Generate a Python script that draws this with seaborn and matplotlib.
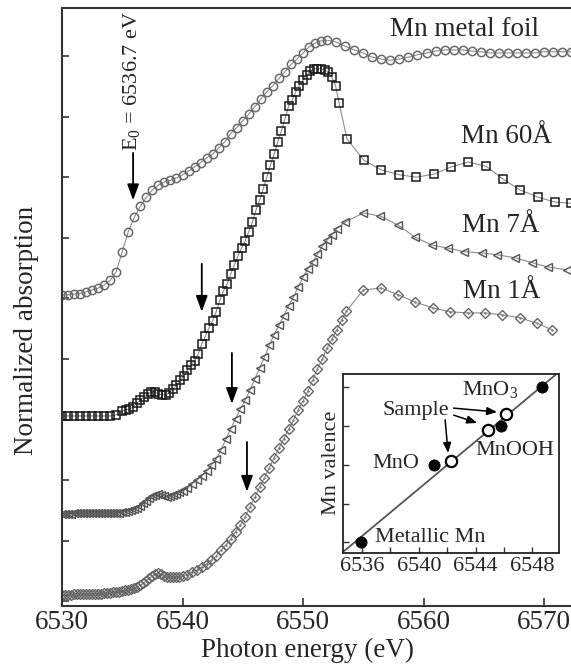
import numpy as np
import matplotlib
matplotlib.use("Agg")
import matplotlib.pyplot as plt
import seaborn as sns

# ---------------- data ----------------
foil_E = [6530.0, 6530.5, 6531.0, 6531.5, 6532.0, 6532.5, 6533.0, 6533.5, 6534.0, 6534.5,
          6535.0, 6535.5, 6536.0, 6536.5, 6537.0, 6537.5, 6538.0, 6538.5, 6539.0, 6539.5,
          6540.0, 6540.5, 6541.0, 6541.5, 6542.0, 6542.5, 6543.0, 6543.5, 6544.0, 6544.5,
          6545.0, 6545.5, 6546.0, 6546.5, 6547.0, 6547.5, 6548.0, 6548.5, 6549.0, 6549.5,
          6550.0, 6550.5, 6551.0, 6551.5, 6552.0, 6552.75, 6553.5, 6554.25, 6555.0, 6555.75,
          6556.5, 6557.25, 6558.0, 6558.75, 6559.5, 6560.25, 6561.0, 6561.75, 6562.5, 6563.25,
          6564.0, 6564.75, 6565.5, 6566.25, 6567.0, 6567.75, 6568.5, 6569.25, 6570.0, 6570.75,
          6571.5, 6572.25]
foil_mu = [5.06, 5.06, 5.07, 5.08, 5.11, 5.14, 5.17, 5.22, 5.30, 5.44,
           5.77, 6.10, 6.34, 6.52, 6.67, 6.79, 6.87, 6.92, 6.95, 6.99,
           7.04, 7.10, 7.17, 7.24, 7.32, 7.38, 7.48, 7.58, 7.72, 7.82,
           7.93, 8.04, 8.16, 8.29, 8.41, 8.51, 8.63, 8.74, 8.86, 8.95,
           9.05, 9.15, 9.21, 9.25, 9.26, 9.23, 9.16, 9.10, 9.05, 8.98,
           8.95, 8.93, 8.95, 8.98, 9.02, 9.05, 9.08, 9.10, 9.10, 9.10,
           9.08, 9.07, 9.05, 9.05, 9.05, 9.05, 9.05, 9.05, 9.07, 9.07,
           9.07, 9.07]

mn60_E = [6530.0, 6530.5, 6531.0, 6531.5, 6532.0, 6532.5, 6533.0, 6533.5, 6534.0, 6534.5,
          6535.0, 6535.3, 6535.6, 6535.9, 6536.2, 6536.5, 6536.8, 6537.1, 6537.4, 6537.7,
          6538.0, 6538.3, 6538.6, 6538.9, 6539.2, 6539.5, 6539.8, 6540.1, 6540.4, 6540.7,
          6541.0, 6541.3, 6541.6, 6541.9, 6542.2, 6542.5, 6542.8, 6543.1, 6543.4, 6543.7,
          6544.0, 6544.3, 6544.6, 6544.9, 6545.2, 6545.5, 6545.8, 6546.1, 6546.4, 6546.7,
          6547.0, 6547.3, 6547.6, 6547.9, 6548.2, 6548.5, 6548.8, 6549.1, 6549.4, 6549.7,
          6550.0, 6550.3, 6550.6, 6550.9, 6551.2, 6551.5, 6551.8, 6552.1, 6552.4, 6552.7,
          6553.0, 6553.65, 6555.05, 6556.5, 6558.0, 6559.4, 6560.85, 6562.3, 6563.7, 6565.2,
          6566.6, 6568.0, 6569.5, 6570.9, 6572.2]
mn60_mu = [3.06, 3.06, 3.06, 3.06, 3.06, 3.06, 3.06, 3.06, 3.06, 3.08,
           3.14, 3.16, 3.17, 3.21, 3.27, 3.32, 3.37, 3.42, 3.46, 3.46,
           3.42, 3.41, 3.41, 3.44, 3.50, 3.57, 3.65, 3.72, 3.82, 3.90,
           3.97, 4.08, 4.25, 4.38, 4.51, 4.63, 4.78, 4.97, 5.12, 5.24,
           5.40, 5.55, 5.70, 5.83, 5.95, 6.10, 6.26, 6.46, 6.62, 6.81,
           7.00, 7.20, 7.38, 7.58, 7.76, 7.96, 8.17, 8.27, 8.41, 8.51,
           8.60, 8.69, 8.75, 8.79, 8.79, 8.79, 8.77, 8.74, 8.65, 8.51,
           8.22, 7.63, 7.28, 7.12, 7.04, 7.00, 7.05, 7.17, 7.25, 7.18,
           6.97, 6.79, 6.67, 6.59, 6.57]

mn7_E = [6530.0, 6530.25, 6530.5, 6530.75, 6531.0, 6531.25, 6531.5, 6531.75, 6532.0, 6532.25,
         6532.5, 6532.75, 6533.0, 6533.25, 6533.5, 6533.75, 6534.0, 6534.25, 6534.5, 6534.75,
         6535.0, 6535.25, 6535.5, 6535.75, 6536.0, 6536.25, 6536.5, 6536.75, 6537.0, 6537.25,
         6537.5, 6537.75, 6538.0, 6538.25, 6538.5, 6538.75, 6539.0, 6539.25, 6539.5, 6539.75,
         6540.0, 6540.4, 6540.8, 6541.2, 6541.6, 6542.0, 6542.4, 6542.8, 6543.2, 6543.6,
         6544.0, 6544.4, 6544.8, 6545.2, 6545.6, 6546.0, 6546.4, 6546.8, 6547.2, 6547.6,
         6548.0, 6548.4, 6548.8, 6549.2, 6549.6, 6550.0, 6550.4, 6550.8, 6551.2, 6551.6,
         6552.0, 6552.4, 6552.8, 6553.5, 6555.0, 6556.4, 6557.9, 6559.3, 6560.7, 6562.0,
         6563.4, 6564.85, 6566.1, 6567.6, 6569.0, 6570.3, 6571.9]
mn7_mu = [1.44, 1.44, 1.44, 1.45, 1.46, 1.46, 1.46, 1.46, 1.46, 1.46,
          1.46, 1.46, 1.46, 1.46, 1.46, 1.46, 1.46, 1.46, 1.46, 1.46,
          1.48, 1.48, 1.49, 1.50, 1.52, 1.54, 1.57, 1.62, 1.66, 1.70,
          1.74, 1.76, 1.77, 1.76, 1.74, 1.73, 1.74, 1.76, 1.77, 1.80,
          1.82, 1.87, 1.94, 2.00, 2.07, 2.15, 2.25, 2.35, 2.50, 2.68,
          2.85, 3.01, 3.18, 3.32, 3.49, 3.67, 3.85, 4.03, 4.23, 4.40,
          4.56, 4.71, 4.88, 5.02, 5.19, 5.35, 5.49, 5.60, 5.73, 5.86,
          5.96, 6.05, 6.15, 6.26, 6.41, 6.36, 6.21, 6.01, 5.88, 5.83,
          5.77, 5.75, 5.72, 5.67, 5.59, 5.52, 5.47]

mn1_E = [6530.0, 6530.25, 6530.5, 6530.75, 6531.0, 6531.25, 6531.5, 6531.75, 6532.0, 6532.25,
         6532.5, 6532.75, 6533.0, 6533.25, 6533.5, 6533.75, 6534.0, 6534.25, 6534.5, 6534.75,
         6535.0, 6535.25, 6535.5, 6535.75, 6536.0, 6536.25, 6536.5, 6536.75, 6537.0, 6537.25,
         6537.5, 6537.75, 6538.0, 6538.25, 6538.5, 6538.75, 6539.0, 6539.25, 6539.5, 6539.75,
         6540.0, 6540.4, 6540.8, 6541.2, 6541.6, 6542.0, 6542.4, 6542.8, 6543.2, 6543.6,
         6544.0, 6544.4, 6544.8, 6545.2, 6545.6, 6546.0, 6546.4, 6546.8, 6547.2, 6547.6,
         6548.0, 6548.4, 6548.8, 6549.2, 6549.6, 6550.0, 6550.4, 6550.8, 6551.2, 6551.6,
         6552.0, 6552.4, 6552.8, 6553.2, 6553.6, 6555.0, 6556.5, 6557.9, 6559.3, 6560.8,
         6562.2, 6563.7, 6565.1, 6566.5, 6568.0, 6569.4, 6570.7]
mn1_mu = [0.11, 0.11, 0.11, 0.11, 0.12, 0.12, 0.12, 0.12, 0.12, 0.12,
          0.12, 0.12, 0.12, 0.13, 0.14, 0.14, 0.14, 0.15, 0.16, 0.16,
          0.17, 0.18, 0.19, 0.20, 0.22, 0.24, 0.27, 0.30, 0.34, 0.38,
          0.42, 0.45, 0.47, 0.45, 0.42, 0.41, 0.40, 0.40, 0.40, 0.41,
          0.42, 0.44, 0.49, 0.52, 0.57, 0.62, 0.68, 0.75, 0.85, 0.93,
          1.03, 1.15, 1.26, 1.39, 1.56, 1.72, 1.89, 2.04, 2.20, 2.37,
          2.53, 2.68, 2.84, 2.99, 3.16, 3.31, 3.47, 3.65, 3.84, 4.00,
          4.18, 4.33, 4.48, 4.64, 4.79, 5.14, 5.17, 5.06, 4.94, 4.84,
          4.78, 4.76, 4.76, 4.73, 4.68, 4.59, 4.48]

curve_labels = ["Mn metal foil", "Mn 60\u00c5", "Mn 7\u00c5", "Mn 1\u00c5"]
e0_text = "E$_0$ = 6536.7 eV"
# edge-position arrows: energy, arrow start (top) and tip
arrow_E = [6535.9, 6541.6, 6544.1, 6545.35]
arrow_top = [7.40, 5.57, 4.10, 2.63]
arrow_tip = [6.62, 4.78, 3.26, 1.81]

x_ticks = [6530, 6540, 6550, 6560, 6570]

# inset: edge energy vs Mn valence
ref_names = ["Metallic Mn", "MnO", "MnOOH", "MnO$_3$"]
ref_E = [6535.93, 6541.07, 6545.79, 6548.65]
ref_val = [0, 2, 3, 4]
sample_E = [6542.27, 6544.89, 6546.14]
sample_val = [2.09, 2.89, 3.29]
inset_ticks = [6536, 6540, 6544, 6548]

# ---------------- style ----------------
sns.set_theme(style="ticks")
plt.rcParams["font.family"] = ["Liberation Serif", "DejaVu Serif"]
plt.rcParams["mathtext.fontset"] = "custom"
plt.rcParams["mathtext.rm"] = "Liberation Serif"
plt.rcParams["mathtext.it"] = "Liberation Serif:italic"
plt.rcParams["mathtext.default"] = "regular"

W, H = 571, 671
fig = plt.figure(figsize=(W / 100, H / 100), dpi=100)
fig.patch.set_facecolor("white")

ax = fig.add_axes([62 / W, 65 / H, 509 / W, 598 / H])
ax.set_facecolor("white")

line_kw = dict(lw=0.8, sort=False, estimator=None, legend=False, ax=ax)
sns.lineplot(x=foil_E, y=foil_mu, color="#8c8c8c", marker="o", markersize=6.0,
             markerfacecolor="none", markeredgecolor="#6a6a6a", markeredgewidth=1.1, **line_kw)
sns.lineplot(x=mn60_E, y=mn60_mu, color="#8c8c8c", marker="s", markersize=5.5,
             markerfacecolor="none", markeredgecolor="#1a1a1a", markeredgewidth=1.1, **line_kw)
sns.lineplot(x=mn7_E, y=mn7_mu, color="#8c8c8c", marker="<", markersize=6.2,
             markerfacecolor="none", markeredgecolor="#555555", markeredgewidth=1.0, **line_kw)
sns.lineplot(x=mn1_E, y=mn1_mu, color="#8c8c8c", marker="D", markersize=4.8,
             markerfacecolor="none", markeredgecolor="#666666", markeredgewidth=1.0, **line_kw)
sns.scatterplot(x=mn1_E, y=mn1_mu, s=3, color="#666666", linewidth=0, ax=ax, legend=False)

ax.set_xlim(6530, 6530 + 509 / 12.05)
ax.set_ylim(-0.076, 9.792)
ax.set_xticks(x_ticks)
ax.set_xticklabels([str(t) for t in x_ticks])
ax.set_yticks(range(10))
ax.set_yticklabels([])
ax.tick_params(axis="both", direction="in", length=6, width=1.2, color="#333333",
               labelsize=19.5, pad=3)
ax.tick_params(axis="y", length=5)
for side in ["left", "bottom", "top"]:
    ax.spines[side].set_linewidth(1.5)
    ax.spines[side].set_color("#333333")
ax.spines["right"].set_visible(False)
ax.set_xlabel("")
ax.set_ylabel("")

fig.text(307 / W, 1 - 650 / H, "Photon energy (eV)", fontsize=19.5, ha="center", va="center")
fig.text(27 / W, 1 - 330 / H, "Normalized absorption", fontsize=19.5, rotation=90,
         ha="center", va="center")

# curve labels
lab_pos = [(6557.2, 9.33), (6563.1, 7.56), (6563.2, 6.09), (6563.3, 5.00)]
for txt, (lx, ly) in zip(curve_labels, lab_pos):
    ax.text(lx, ly, txt, fontsize=19.5, ha="left", va="baseline")

# arrows
head = "-|>,head_length=0.6,head_width=0.22"
for e, y0, y1 in zip(arrow_E, arrow_top, arrow_tip):
    ax.annotate("", xy=(e, y1), xytext=(e, y0),
                arrowprops=dict(arrowstyle=head, color="black", lw=1.3,
                                mutation_scale=16, shrinkA=0, shrinkB=0))
ax.text(6535.73, 7.43, e0_text, rotation=90, fontsize=16, ha="center", va="bottom")

# ---------------- inset ----------------
axi = fig.add_axes([343.3 / W, (H - 552.5) / H, 216 / W, 178.5 / H])
axi.set_facecolor("white")
axi.set_xlim(6534.68, 6549.89)
axi.set_ylim(-0.257, 4.326)
sns.regplot(x=ref_E, y=ref_val, ax=axi, scatter=False, ci=None, truncate=False,
            line_kws=dict(color="#555555", lw=1.3))
axi.set_xlim(6534.68, 6549.89)
axi.set_ylim(-0.257, 4.326)
sns.scatterplot(x=ref_E, y=ref_val, ax=axi, s=66, color="black", edgecolor="black",
                linewidth=0.5, zorder=3, legend=False)
sns.scatterplot(x=sample_E, y=sample_val, ax=axi, s=66, color="white", edgecolor="black",
                linewidth=1.6, zorder=3, legend=False)
axi.set_xticks(inset_ticks)
axi.set_xticklabels([str(t) for t in inset_ticks])
axi.set_xticks([6538, 6542, 6546], minor=True)
axi.set_yticks([0, 1, 2, 3, 4])
axi.set_yticklabels([])
axi.tick_params(axis="both", which="both", direction="in", length=4, width=1.0,
                color="#333333", labelsize=16, pad=3)
for side in axi.spines.values():
    side.set_linewidth(1.3)
    side.set_color("#222222")
axi.set_xlabel("")
axi.set_ylabel("Mn valence", fontsize=16, labelpad=-1)

axi.text(6536.92, 0.14, ref_names[0], fontsize=16, ha="left", va="center")
axi.text(6536.70, 2.02, ref_names[1], fontsize=16, ha="left", va="center")
axi.text(6543.96, 2.37, ref_names[2], fontsize=16, ha="left", va="center")
axi.text(6543.04, 3.92, ref_names[3], fontsize=16, ha="left", va="center")
axi.text(6537.41, 3.38, "Sample", fontsize=16, ha="left", va="center")
ihead = "-|>,head_length=0.5,head_width=0.2"
for (x0, y0), (x1, y1) in [((6541.85, 3.15), (6542.06, 2.30)),
                           ((6542.45, 3.27), (6544.10, 3.07)),
                           ((6542.45, 3.45), (6545.51, 3.35))]:
    axi.annotate("", xy=(x1, y1), xytext=(x0, y0),
                 arrowprops=dict(arrowstyle=ihead, color="black", lw=1.1,
                                 mutation_scale=12, shrinkA=0, shrinkB=0))

fig.savefig("out.png", dpi=100, facecolor="white")
